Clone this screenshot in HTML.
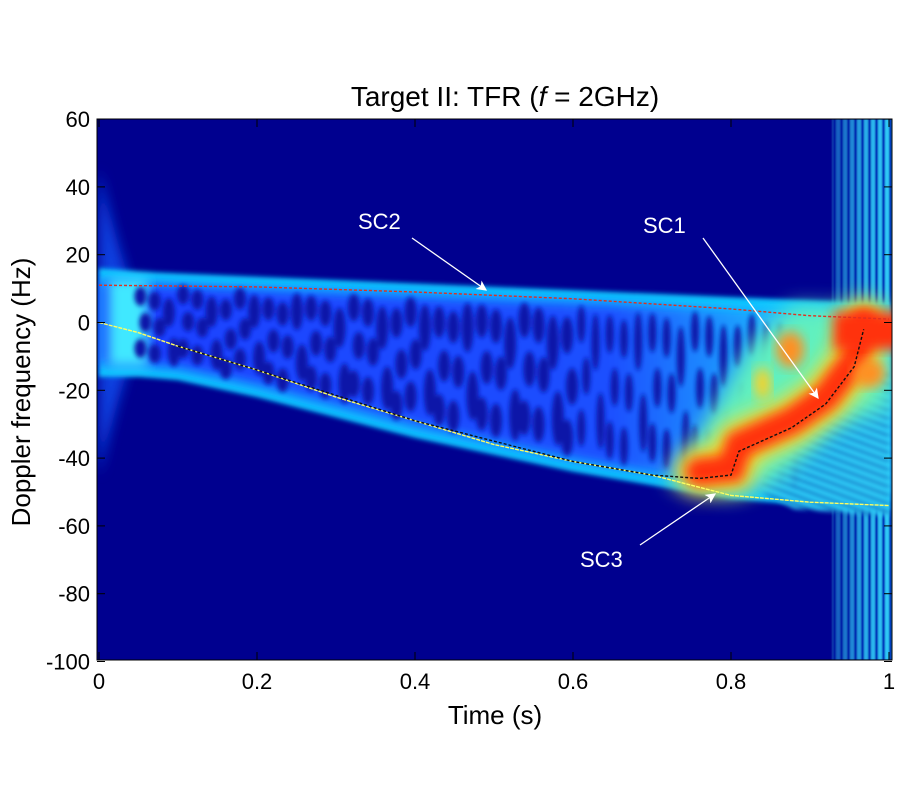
<!DOCTYPE html>
<html><head><meta charset="utf-8"><style>
body{margin:0;background:#fff;}
svg text{font-family:"Liberation Sans",sans-serif;}
</style></head><body>
<svg id="chart" width="900" height="800" viewBox="0 0 900 800" xmlns="http://www.w3.org/2000/svg">
<defs>
<clipPath id="plotclip"><rect x="97" y="119" width="795" height="541"/></clipPath>
<filter id="b6" x="-20%" y="-20%" width="140%" height="140%"><feGaussianBlur stdDeviation="6"/></filter>
<filter id="b3"><feGaussianBlur stdDeviation="2.5"/></filter>
<filter id="b1"><feGaussianBlur stdDeviation="0.8"/></filter>
<filter id="b10" x="-30%" y="-30%" width="160%" height="160%"><feGaussianBlur stdDeviation="10"/></filter>
<linearGradient id="bandgrad" x1="0" x2="1" y1="0" y2="0">
<stop offset="0" stop-color="#1a40ff"/><stop offset="0.65" stop-color="#1a50ff"/><stop offset="0.85" stop-color="#20b0ff"/><stop offset="1" stop-color="#40e0ff"/>
</linearGradient>
<pattern id="vstr" width="7" height="10" patternUnits="userSpaceOnUse"><rect width="7" height="10" fill="#30d8ff"/><rect width="3" height="10" fill="#0030c0"/></pattern>
<pattern id="hstr" width="10" height="8" patternUnits="userSpaceOnUse" patternTransform="rotate(20)"><rect width="10" height="8" fill="#30d8ff"/><rect width="10" height="3" fill="#0030b0"/></pattern>
<linearGradient id="fade" x1="0" x2="1" y1="0" y2="0"><stop offset="0" stop-color="#fff" stop-opacity="0.35"/><stop offset="0.5" stop-color="#fff" stop-opacity="0.8"/><stop offset="1" stop-color="#fff" stop-opacity="1"/></linearGradient>
<mask id="fademask"><rect x="830" y="119" width="70" height="541" fill="url(#fade)"/></mask>
<marker id="arr" markerWidth="8" markerHeight="8" refX="7" refY="4" orient="auto" markerUnits="strokeWidth"><path d="M0,0 L8,4 L0,8 L2,4 z" fill="#fff"/></marker>
</defs>
<text x="505" y="106" text-anchor="middle" font-size="28">Target II: TFR (<tspan font-style="italic">f</tspan> = 2GHz)</text>
<g clip-path="url(#plotclip)">
<rect x="97" y="119" width="795" height="541" fill="#00008f"/>
<g mask="url(#fademask)"><rect x="832" y="119" width="64" height="541" fill="url(#vstr)" filter="url(#b1)"/></g>
<g id="band"></g>
<g id="curves"></g>
</g>
<rect x="97" y="119" width="795" height="541" fill="none" stroke="#000" stroke-width="1"/>
<g id="axes"></g>
<text x="495" y="724" text-anchor="middle" font-size="26">Time (s)</text>
<text transform="translate(30,392) rotate(-90)" text-anchor="middle" font-size="26">Doppler frequency (Hz)</text>
<g id="annot" fill="#fff" font-size="22">
<text x="358" y="229">SC2</text>
<line x1="412" y1="238" x2="486" y2="290" stroke="#fff" stroke-width="1.3" marker-end="url(#arr)"/>
<text x="643" y="233">SC1</text>
<line x1="703" y1="238" x2="818" y2="398" stroke="#fff" stroke-width="1.3" marker-end="url(#arr)"/>
<text x="580" y="567">SC3</text>
<line x1="640" y1="545" x2="715" y2="494" stroke="#fff" stroke-width="1.3" marker-end="url(#arr)"/>
</g>
</svg>
<script>
const xTicks=[0,0.2,0.4,0.6,0.8,1];
const xTickLabels=["0","0.2","0.4","0.6","0.8","1"];
const yTicks=[60,40,20,0,-20,-40,-60,-80,-100];
const yTickLabels=["60","40","20","0","-20","-40","-60","-80","-100"];
const bandTime=[0,0.05,0.1,0.2,0.3,0.4,0.5,0.6,0.7,0.8,0.9,0.95];
const bandUpper=[16,15,14.5,13.5,12.5,11.5,10.5,9.5,8.5,7.5,6.5,6];
const bandLower=[-16,-16,-17,-22,-28,-34,-39,-44,-48,-52,-54,-55];
const sc2Time=[0,0.2,0.4,0.5,0.6,0.7,0.8,0.85,0.9,1];
const sc2Freq=[11,10.5,9,8,7,5.5,4,3,2,1];
const sc3Time=[0,0.05,0.1,0.2,0.3,0.4,0.5,0.6,0.7,0.8,0.9,1];
const sc3Freq=[0,-3,-7,-14,-22,-29,-36,-41,-45,-51,-53,-54];
const sc1Time=[0.1,0.2,0.4,0.6,0.7,0.76,0.8,0.81,0.877,0.92,0.956,0.968];
const sc1Freq=[-7,-14,-29,-41,-45,-46,-45,-38,-31,-24,-13,-2];
const NS="http://www.w3.org/2000/svg";
const X=t=>99+t*790;
const Y=f=>322.5-f*3.39;
function mk(tag,attrs,parent){const e=document.createElementNS(NS,tag);for(const k in attrs)e.setAttribute(k,attrs[k]);parent.appendChild(e);return e;}
const axes=document.getElementById('axes');
xTicks.forEach((t,i)=>{
 const l=mk('line',{x1:X(t),x2:X(t),y1:660,y2:652,stroke:'#000'},axes);
 
 
 const l2=mk('line',{x1:X(t),x2:X(t),y1:119,y2:127,stroke:'#000'},axes);
 
 
 const tx=mk('text',{x:X(t),y:689,'text-anchor':'middle','font-size':22},axes);
 tx.textContent=xTickLabels[i];
 
 
});
yTicks.forEach((f,i)=>{
 const l=mk('line',{x1:97,x2:105,y1:Y(f),y2:Y(f),stroke:'#000'},axes);
 
 
 const l2=mk('line',{x1:884,x2:892,y1:Y(f),y2:Y(f),stroke:'#000'},axes);
 
 
 const tx=mk('text',{x:90,y:Y(f)+8,'text-anchor':'end','font-size':22},axes);
 tx.textContent=yTickLabels[i];
 
 
});
const band=document.getElementById('band');
function interp(arr,t){let i=bandTime.findIndex(v=>v>t);if(i<1)i=bandTime.length-1;const a=(t-bandTime[i-1])/(bandTime[i]-bandTime[i-1]);return arr[i-1]+a*(arr[i]-arr[i-1]);}
function bandPath(inset){
 let d='';
 bandTime.forEach((t,i)=>{d+=(i?'L':'M')+X(t)+','+Y(bandUpper[i]-inset);});
 d+='L'+X(1.0)+','+Y(bandUpper[bandUpper.length-1]-inset)+'L'+X(1.0)+','+Y(bandLower[bandLower.length-1]+inset);
 for(let i=bandTime.length-1;i>=0;i--)d+='L'+X(bandTime[i])+','+Y(bandLower[i]+inset);
 return d+'Z';
}
const spread=mk('path',{d:'M'+X(0)+','+Y(45)+'Q'+X(0.03)+','+Y(15)+' '+X(0.06)+','+Y(0)+'Q'+X(0.03)+','+Y(-15)+' '+X(0)+','+Y(-45)+'Z',fill:'#1040e0',filter:'url(#b6)'},band);


const outer=mk('path',{d:bandPath(0),fill:'#10c8ff',filter:'url(#b3)'},band);


const inner=mk('path',{d:bandPath(3.5),fill:'url(#bandgrad)',filter:'url(#b6)'},band);


const lft=mk('rect',{x:108,y:Y(13),width:40,height:Y(-13)-Y(13),fill:'#40e8ff',filter:'url(#b6)'},band);


const g=mk('g',{fill:'#0818a8',filter:'url(#b3)'},band);
let k=0;
for(let t=0.055;t<0.9;t+=0.018){
 k++;
 const up=interp(bandUpper,t), lo=interp(bandLower,t);
 const top=Y(up-4), bot=Y(lo+4), h=bot-top;
 const n=(k%3===0)?2:3;
 for(let j=0;j<n;j++){
  const cy=top+h*(j+0.5)/n+((k%4)-1.5)*4;
  const e=mk('ellipse',{cx:X(t)+((j%2)?3:-2),cy:cy,rx:t>0.6?4:6,ry:h/n*0.36},g);
  
  
 }
}
const hot=mk('g',{},band);


const br=mk('path',{d:'M'+X(0.84)+','+Y(-20)+'L'+X(1)+','+Y(-15)+'L'+X(1)+','+Y(-57)+'L'+X(0.88)+','+Y(-55)+'L'+X(0.84)+','+Y(-50)+'Z',fill:'url(#hstr)',filter:'url(#b3)',opacity:0.9},hot);


const halo=mk('path',{d:'M'+X(0.72)+','+Y(-47)+'L'+X(0.8)+','+Y(-51)+'L'+X(0.86)+','+Y(-46)+'L'+X(0.93)+','+Y(-30)+'L'+X(1)+','+Y(-25)+'L'+X(1)+','+Y(4)+'L'+X(0.88)+','+Y(5)+'L'+X(0.83)+','+Y(-5)+'L'+X(0.78)+','+Y(-25)+'Z',fill:'#60f0c0',filter:'url(#b10)'},hot);


let hd='';sc1Time.forEach((t,i)=>{if(t>=0.74)hd+=(hd?'L':'M')+X(t)+','+Y(sc1Freq[i]+2);});
mk('path',{d:hd,stroke:'#ffe020',"stroke-width":46,fill:'none',"stroke-linecap":'round',filter:'url(#b10)'},hot);
mk('path',{d:hd,stroke:'#ff3010',"stroke-width":28,fill:'none',"stroke-linecap":'round',filter:'url(#b6)'},hot);
mk('rect',{x:X(0.93),y:Y(3),width:70,height:Y(-8)-Y(3),fill:'#ff3010',filter:'url(#b6)'},hot);
mk('ellipse',{cx:X(0.975),cy:Y(-15),rx:16,ry:14,fill:'#ff9020',filter:'url(#b6)'},hot);
mk('ellipse',{cx:X(0.875),cy:Y(-8),rx:14,ry:18,fill:'#ff9020',filter:'url(#b6)'},hot);
mk('ellipse',{cx:X(0.84),cy:Y(-18),rx:8,ry:16,fill:'#ffd020',filter:'url(#b6)'},hot);
const cv=document.getElementById('curves');
function line(ts,fs,color,name,dash){
 let d='';ts.forEach((t,i)=>{d+=(i?'L':'M')+X(t)+','+Y(fs[i]);});
 const p=mk('path',{d:d,stroke:color,'stroke-width':1.4,fill:'none','stroke-dasharray':dash},cv);
 
 
}
line(sc2Time,sc2Freq,'#e03020','curve-sc2','3 2');
line(sc3Time,sc3Freq,'#ffff60','curve-sc3','4 1');
line(sc1Time,sc1Freq,'#101010','curve-sc1','3 2');
</script>
</body></html>
